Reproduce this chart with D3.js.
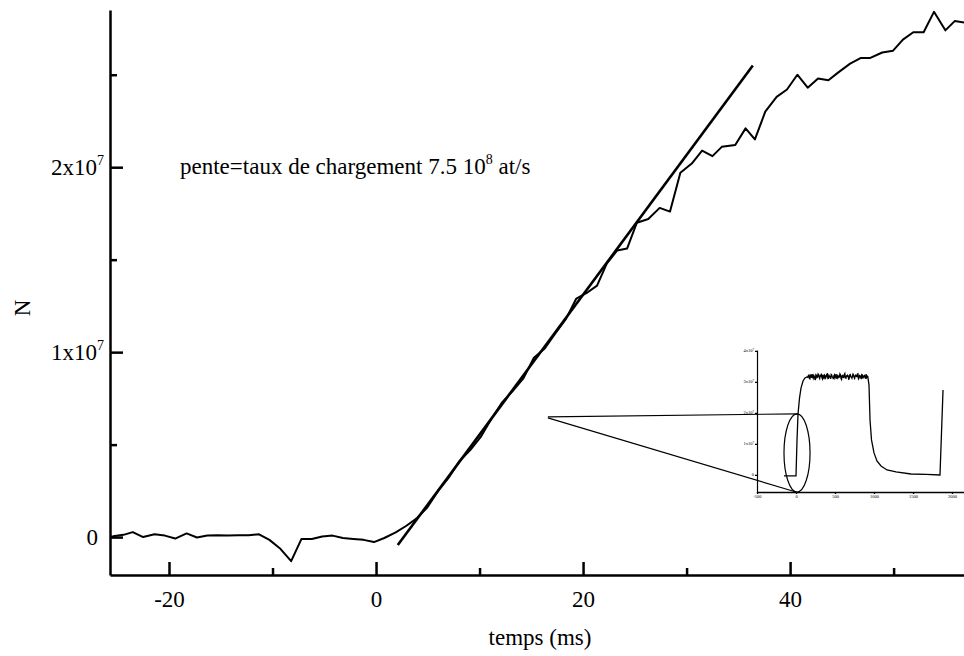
<!DOCTYPE html>
<html><head><meta charset="utf-8">
<script src="https://cdn.jsdelivr.net/npm/d3@7"></script>
<style>
body{margin:0;background:#fff}
svg{display:block}
text{font-family:"Liberation Serif","Times New Roman",serif;fill:#000}
</style>
</head><body>
<svg id="c" width="964" height="656"></svg>
<script>
// ---- main curve: time (ms) and number of atoms (units of 1e6) ----
const times = [-26.4,-25.4,-24.4,-23.5,-22.5,-21.4,-20.4,-19.4,-18.3,-17.3,-16.3,-15.3,-14.3,-13.3,-12.3,-11.3,-10.3,-9.3,-8.2,-7.2,-6.2,-5.2,-4.2,-3.2,-2.2,-1.2,-0.2,0.8,1.9,2.9,3.9,
  4.95,6.0,7.0,8.05,9.1,10.1,11.15,12.2,13.2,14.25,15.25,16.3,17.3,18.35,19.35,20.35,21.35,22.3,23.3,24.25,25.2,26.3,27.4,28.4,29.4,30.5,31.5,32.5,33.4,34.7,35.7,36.6,37.6,38.7,39.7,40.7,41.7,42.7,43.7,44.6,45.8,46.8,47.7,48.9,49.95,50.9,51.9,52.9,53.9,55.0,55.9,57.0];
const counts = [0.0,0.05,0.12,0.27,0.0,0.15,0.08,-0.08,0.2,-0.02,0.08,0.1,0.08,0.1,0.1,0.15,-0.15,-0.6,-1.3,-0.1,-0.1,0.03,0.08,-0.05,-0.1,-0.15,-0.27,-0.05,0.25,0.6,1.0,
  1.6,2.5,3.2,4.1,4.7,5.4,6.4,7.3,7.9,8.6,9.7,10.2,11.0,11.8,12.9,13.2,13.6,14.8,15.5,15.6,17.0,17.2,17.8,17.6,19.7,20.2,20.9,20.6,21.1,21.2,22.1,21.5,23.0,23.8,24.2,25.0,24.3,24.8,24.7,25.1,25.6,25.9,25.9,26.2,26.3,26.9,27.3,27.3,28.4,27.4,27.9,27.8];

// ---- linear fit (slope = loading rate 7.5e8 at/s) ----
const fitTimes = [2.1, 36.4];
const fitCounts = [-0.43, 25.5];

// ---- axis ticks ----
const xMajorTicks = [-20, 0, 20, 40];
const xMinorTicks = [-10, 10, 30, 50];
const yMajorTicks = [0, 10, 20];
const yMinorTicks = [5, 15, 25];
const yTickBase = ["0", "1x10", "2x10"];
const yTickExp = ["", "7", "7"];

// ---- inset: full cycle, time (ms) and atoms (units of 1e7) ----
const riseTimes = [-154,0,13,26,45,64,90,115,141];
const riseCounts = [-0.03,-0.03,1.13,1.97,2.48,2.8,3.03,3.13,3.16];
const plateauTimes = d3.range(150, 921, 7); // sampling grid of the plateau
const plateauCounts = [3.15,3.20,3.22,3.12,3.10,3.24,3.19,3.13,3.25,3.17,
  3.12,3.21,3.18,3.09,3.08,3.23,3.21,3.14,3.16,3.26,
  3.24,3.15,3.11,3.20,3.19,3.27,3.14,3.10,3.23,3.18,
  3.09,3.22,3.20,3.13,3.17,3.25,3.26,3.11,3.12,3.21,
  3.18,3.15,3.10,3.24,3.22,3.16,3.15,3.09,3.20,3.23,
  3.13,3.18,3.25,3.12,3.11,3.21,3.19,3.14,3.16,3.26,
  3.23,3.11,3.08,3.20,3.21,3.15,3.14,3.24,3.27,3.13,
  3.12,3.19,3.18,3.22,3.20,3.09,3.10,3.23,3.24,3.17,
  3.15,3.12,3.19,3.25,3.22,3.14,3.11,3.20,3.22,3.18,
  3.17,3.25,3.26,3.10,3.13,3.21,3.20,3.15,3.09,3.24,
  3.23,3.11,3.16,3.20,3.21,3.13,3.12,3.25,3.15,3.19,3.18];
const decayTimes = [936,949,968,1000,1038,1090,1167,1282,1474,1667,1846,1885];
const decayCounts = [2.9,1.77,1.13,0.71,0.45,0.29,0.16,0.1,0.03,0.02,0.0,2.74];
const insetXTicks = [-500, 0, 500, 1000, 1500, 2000];
const insetYTicks = [0, 1, 2, 3, 4];
const insetYBase = ["0", "1x10", "2x10", "3x10", "4x10"];
const insetYExp = ["", "7", "7", "7", "7"];
// zoom marker: ellipse (inset coords) and apex of the zoom lines (main coords)
const ellipseCenter = {t: 13, n: 0.71};
const ellipseHalf = {t: 167, n: 1.26};
const zoomApex = {t: 16.6, n: 6.5};

const svg = d3.select("#c");
const x = d3.scaleLinear().domain([-25.7, 56.8]).range([110, 964]);
const y = d3.scaleLinear().domain([-2.05, 28.5]).range([575, 10]);

const ix = d3.scaleLinear().domain([-500, 2200]).range([757, 967.6]);
const iy = d3.scaleLinear().domain([-0.55, 4.03]).range([492, 350]);

svg.append("defs").append("clipPath").attr("id","plot")
  .append("rect").attr("x",110).attr("y",0).attr("width",854).attr("height",575);

// ---- inset ----
const inset = svg.append("g");
const ax = x(zoomApex.t), ay = y(zoomApex.n);
const ecx = ix(ellipseCenter.t), ecy = iy(ellipseCenter.n);
const erx = ix(ellipseCenter.t + ellipseHalf.t) - ecx;
const ery = iy(ellipseCenter.n - ellipseHalf.n) - ecy;
inset.append("line").attr("x1",ax).attr("y1",ay).attr("x2",ecx+1).attr("y2",ecy-ery)
  .attr("stroke","#000").attr("stroke-width",1.1);
inset.append("line").attr("x1",ax).attr("y1",ay+1).attr("x2",ecx-1).attr("y2",ecy+ery)
  .attr("stroke","#000").attr("stroke-width",1.1);

inset.append("g").attr("transform","translate(0,492)")
  .call(d3.axisBottom(ix).tickValues(insetXTicks).tickSize(2).tickSizeOuter(0).tickPadding(1).tickFormat(d=>String(d)))
  .call(g=>g.selectAll("text").attr("font-size",4.5).attr("font-family","Liberation Serif"))
  .call(g=>g.selectAll("path,line").attr("stroke-width",1.4));
inset.append("g").attr("transform","translate(757,0)")
  .call(d3.axisLeft(iy).tickValues(insetYTicks).tickSize(2).tickSizeOuter(0).tickFormat(""))
  .call(g=>g.selectAll("path,line").attr("stroke-width",1.2));
insetYTicks.forEach((v,i)=>{
  const t = inset.append("text").attr("x",754).attr("y",iy(v)+1.5)
    .attr("text-anchor","end").attr("font-size",4.5).text(insetYBase[i]);
  if (insetYExp[i]) t.append("tspan").attr("font-size",3).attr("dy",-1.5).text(insetYExp[i]);
});
const insetT = riseTimes.concat(plateauTimes, decayTimes);
const insetN = riseCounts.concat(plateauCounts, decayCounts);
inset.append("path")
  .datum(insetT.map((t,i)=>[t, insetN[i]]))
  .attr("fill","none").attr("stroke","#000").attr("stroke-width",1.3)
  .attr("d", d3.line().x(d=>ix(d[0])).y(d=>iy(d[1])));
inset.append("ellipse").attr("cx",ecx).attr("cy",ecy).attr("rx",erx).attr("ry",ery)
  .attr("fill","none").attr("stroke","#000").attr("stroke-width",1.2);

// ---- main axes ----
const xa = svg.append("g").attr("transform","translate(0,575)")
  .call(d3.axisBottom(x).tickValues(xMajorTicks).tickSize(-13).tickSizeOuter(0).tickFormat(d=>String(d)));
xa.selectAll("path,line").attr("stroke-width",2.5);
xa.selectAll("text").attr("font-size",23).attr("font-family","Liberation Serif").attr("y",32).attr("dy",0);
const xm = svg.append("g").attr("transform","translate(0,575)")
  .call(d3.axisBottom(x).tickValues(xMinorTicks).tickSize(-7).tickSizeOuter(0).tickFormat(""));
xm.select(".domain").remove();
xm.selectAll("line").attr("stroke-width",2.5);

const ya = svg.append("g").attr("transform","translate(110,0)")
  .call(d3.axisLeft(y).tickValues(yMajorTicks).tickSize(-13).tickSizeOuter(0).tickFormat(""));
ya.selectAll("path,line").attr("stroke-width",2.5);
const ym = svg.append("g").attr("transform","translate(110,0)")
  .call(d3.axisLeft(y).tickValues(yMinorTicks).tickSize(-7).tickSizeOuter(0).tickFormat(""));
ym.select(".domain").remove();
ym.selectAll("line").attr("stroke-width",2.5);

yMajorTicks.forEach((v,i)=>{
  const t = svg.append("text").attr("x", i===0 ? 98 : 104).attr("y", y(v)+8)
    .attr("text-anchor","end").attr("font-size",23).text(yTickBase[i]);
  if (yTickExp[i]) t.append("tspan").attr("font-size",14).attr("dy",-10).text(yTickExp[i]);
});

// ---- axis titles ----
svg.append("text").attr("x",540).attr("y",645).attr("text-anchor","middle")
  .attr("font-size",23).text("temps (ms)");
svg.append("text").attr("transform","translate(30,308) rotate(-90)").attr("text-anchor","middle")
  .attr("font-size",23).text("N");

// ---- annotation ----
const ann = svg.append("text").attr("x",180).attr("y",174).attr("font-size",23)
  .text("pente=taux de chargement 7.5 10");
ann.append("tspan").attr("font-size",14).attr("dy",-10).text("8");
ann.append("tspan").attr("dy",10).text(" at/s");

// ---- data ----
const plot = svg.append("g").attr("clip-path","url(#plot)");
plot.append("path")
  .datum(fitTimes.map((t,i)=>[t, fitCounts[i]]))
  .attr("fill","none").attr("stroke","#000").attr("stroke-width",2.6)
  .attr("d", d3.line().x(d=>x(d[0])).y(d=>y(d[1])));
plot.append("path")
  .datum(times.map((t,i)=>[t, counts[i]]))
  .attr("fill","none").attr("stroke","#000").attr("stroke-width",2).attr("stroke-linejoin","round")
  .attr("d", d3.line().x(d=>x(d[0])).y(d=>y(d[1])));
</script>
</body></html>
